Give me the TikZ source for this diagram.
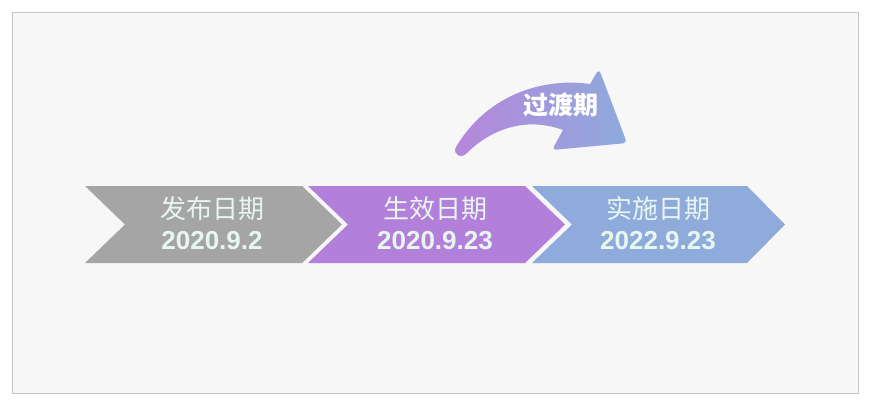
\documentclass[tikz,border=0pt]{standalone}
\usepackage{fontspec}
\setmainfont{Liberation Sans}
\newfontfamily\cjk{Noto Sans CJK SC}
\begin{document}
\begin{tikzpicture}[x=1pt,y=-1pt,
  title/.style={text=txtc,font=\cjk\fontsize{26}{26}\selectfont,inner sep=0pt,anchor=center},
  datel/.style={text=txtc,font=\bfseries\fontsize{26}{26}\selectfont,inner sep=0pt,anchor=center}]
\definecolor{bgc}{HTML}{F7F7F7}
\definecolor{framec}{HTML}{C6C6C6}
\definecolor{grayc}{HTML}{A5A5A5}
\definecolor{purc}{HTML}{B27FDA}
\definecolor{bluec}{HTML}{8EABDC}
\definecolor{txtc}{HTML}{E8F6F0}
\useasboundingbox (0,0) rectangle (869,402);
\fill[white] (0,0) rectangle (869,402);
\draw[framec,fill=bgc,line width=1pt] (12,12.5) rectangle (858,393);
% chevrons
\fill[grayc] (85,186) -- (302,186) -- (342,224.5) -- (302,263) -- (85,263) -- (125,224.5) -- cycle;
\fill[purc] (308,186) -- (525,186) -- (565,224.5) -- (525,263) -- (308,263) -- (348,224.5) -- cycle;
\fill[bluec] (532,186) -- (747,186) -- (785,224.5) -- (747,263) -- (532,263) -- (572,224.5) -- cycle;
\node[title] (t1) at (212,209) {发布日期};
\node[datel] (d1) at (212,241) {2020.9.2};
\node[title] (t2) at (435,209) {生效日期};
\node[datel] (d2) at (435,241) {2020.9.23};
\node[title] (t3) at (658,209) {实施日期};
\node[datel] (d3) at (658,241) {2022.9.23};
% curved arrow
\shade[left color=purc!95!white,right color=bluec]
  (456,147) .. controls (490,90) and (550,78) .. (590,84)
  [rounded corners=4pt] -- (599,69) -- (627,143) -- (552,150) [sharp corners] -- (563,130)
  .. controls (525,116) and (490,130) .. (467,153)
  .. controls (462,159) and (452,155) .. cycle;
\node[text=white,font=\cjk\bfseries\fontsize{25}{25}\selectfont,inner sep=0pt] (tr) at (561,105) {过渡期};
\end{tikzpicture}
\end{document}
